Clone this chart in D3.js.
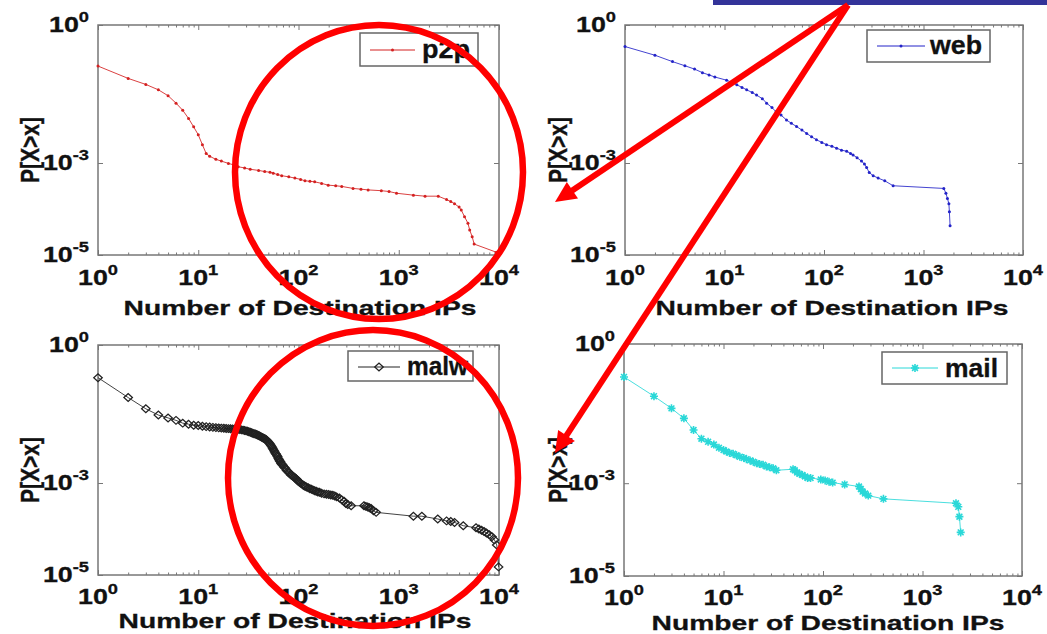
<!DOCTYPE html>
<html><head><meta charset="utf-8">
<script src="https://cdn.jsdelivr.net/npm/d3@7"></script>
<style>body{margin:0;background:#fff}svg{display:block}</style>
</head><body>
<script>
// ---------------- data ----------------
const seriesNames = ["p2p", "web", "malw", "mail"];
const xTickValues = [1, 10, 100, 1000, 10000];
const xTickExponents = ["0", "1", "2", "3", "4"];
const yTickValues = [1, 1e-3, 1e-5];
const yTickExponents = ["0", "-3", "-5"];
const xAxisTitle = "Number of Destination IPs";
const yAxisTitle = "P[X>x]";

const p2pX = [1,2,3,4,5,6,7,8,9,10,11,12,13,15,17,20,23,25,29,33,40,46,52,56,62,68,80,92,105,116,130,145,170,198,235,270,350,420,495,670,800,950,1400,1830,2480,3000,3300,3600,4000,4200,4530,4900,5100,5400,5650,9400];
const p2pY = [0.128,0.069,0.051,0.039,0.029,0.020,0.014,0.0093,0.0061,0.0041,0.0025,0.0016,0.0014,0.0012,0.0011,0.00098,0.0009,0.00083,0.00078,0.00073,0.00069,0.00065,0.00063,0.0006,0.00056,0.00053,0.0005,0.00047,0.00044,0.00041,0.0004,0.00039,0.00036,0.00033,0.00032,0.00031,0.00028,0.00027,0.00026,0.00025,0.00024,0.00022,0.0002,0.00019,0.00019,0.00016,0.000145,0.00013,0.00011,0.000095,0.000068,0.000049,0.000035,0.000025,0.0000173,0.0000115];

const webX = [1,2,3,4,5,6,7,8,10.5,12,13.3,15,16.7,19,21,24,26.5,30,33,37,42,47,53,60,67,75,84,95,106,120,134,150,169,185,196,215,238,255,268,285,312,350,408,495,1600,1680,1740,1800,1820,1850];
const webY = [0.34,0.22,0.16,0.13,0.11,0.092,0.082,0.074,0.063,0.056,0.050,0.044,0.039,0.034,0.030,0.025,0.020,0.016,0.013,0.011,0.0086,0.0073,0.0062,0.0052,0.0044,0.0037,0.0032,0.0028,0.0025,0.0023,0.0021,0.0019,0.0018,0.0016,0.0015,0.0013,0.0011,0.00095,0.0008,0.00062,0.00053,0.00047,0.00041,0.00032,0.00028,0.00022,0.00017,0.00013,0.000087,0.000043];

const malwX = [1,2,3,4,5,6,7,8,9,10,11,12,13,14,15,16,17,18,19,20,21,22,23,24,25,26,27,28,29,30,31,32,33,34,35,36,37,38,39,40,41,42,43,44,45,46,47,48,49,50,51,52,53,54,55,56,57,58,59,60,61,62,63,64,65,66,67,68,69,70,72,74,76,78,80,82,84,86,88,90,92,94,96,98,100,103,106,110,113,116,120,125,130,135,140,145,150,156,162,170,180,190,200,210,220,230,240,256,270,285,297,310,335,450,470,490,510,530,560,595,1400,1700,2450,3000,3300,3600,4400,5900,6300,6700,7100,7500,8000,8500,9000,9500,9900];
const malwY = [0.195,0.072,0.041,0.030,0.026,0.023,0.020,0.019,0.018,0.0177,0.0172,0.0168,0.0165,0.0162,0.016,0.0158,0.0156,0.0155,0.0153,0.0152,0.0151,0.015,0.0149,0.0148,0.0147,0.0145,0.0143,0.0141,0.0139,0.0136,0.0133,0.013,0.0127,0.0124,0.0121,0.0118,0.0116,0.0113,0.0111,0.0108,0.0105,0.0102,0.0099,0.0096,0.0094,0.0092,0.0089,0.0086,0.0082,0.0078,0.0074,0.007,0.0066,0.0062,0.0058,0.0054,0.005,0.0047,0.0044,0.0042,0.0039,0.0037,0.0034,0.0032,0.003,0.0029,0.0027,0.0026,0.0025,0.0024,0.0022,0.0021,0.0019,0.0018,0.0017,0.0016,0.0015,0.00145,0.0014,0.00135,0.0013,0.00125,0.0012,0.00114,0.00108,0.00102,0.00098,0.00092,0.00088,0.00085,0.00082,0.00079,0.00075,0.00073,0.0007,0.00068,0.00066,0.00064,0.00063,0.0006,0.00058,0.00057,0.00056,0.00055,0.00054,0.00052,0.0005,0.00047,0.00043,0.0004,0.00036,0.00034,0.00032,0.00032,0.00031,0.0003,0.00029,0.00028,0.00025,0.00023,0.00019,0.00019,0.000165,0.00015,0.000145,0.000139,0.000118,0.000106,0.0001,0.000094,0.000088,0.000082,0.000075,0.000068,0.000058,0.000045,0.000015];

const mailX = [1,2,3,4,5,6,7,8,9,10,10.7,11.5,12.5,13.5,14.6,16,17,18.5,19.9,21.5,23,25,27,29,31.6,34,50,52,55,58,62,66,70,75,95,105,115,125,165,230,240,250,265,285,405,2170,2290,2350,2420];
const mailY = [0.195,0.075,0.041,0.025,0.014,0.0091,0.0078,0.0068,0.0058,0.0052,0.0048,0.0045,0.0043,0.004,0.0037,0.0035,0.0033,0.0031,0.0029,0.0027,0.0026,0.0025,0.0023,0.0022,0.0021,0.0019,0.002,0.0019,0.0017,0.0016,0.0015,0.0014,0.0013,0.0013,0.0012,0.00115,0.00107,0.00103,0.00094,0.00085,0.00075,0.00066,0.0006,0.00054,0.00046,0.00037,0.00031,0.00019,0.000087];

const seriesX = [p2pX, webX, malwX, mailX];
const seriesY = [p2pY, webY, malwY, mailY];

// ---------------- layout / style ----------------
const W = 1047, H = 634;
const FONT = "'Liberation Sans', Arial, sans-serif";
const styles = [
  {color: "#d42020", marker: "dot"},
  {color: "#2323c8", marker: "dot"},
  {color: "#222222", marker: "diamond"},
  {color: "#2ad8d8", marker: "star"}
];
const layouts = [
  {l:98, r:499, t:25, b:255, tickBase:285, titleBase:315, titleCx:300, yTitleX:39, yTitleCy:150,
   leg:{x:360,y:33,w:118,h:33,lx1:370,lx2:415,ly:50,tx:422,tb:58,tw:48}},
  {l:625, r:1023, t:25, b:255, tickBase:285, titleBase:315, titleCx:832, yTitleX:567, yTitleCy:150,
   leg:{x:867,y:30,w:123,h:32,lx1:877,lx2:925,ly:46,tx:930,tb:54,tw:52}},
  {l:98, r:499, t:345, b:575, tickBase:604, titleBase:628, titleCx:295, yTitleX:39, yTitleCy:470,
   leg:{x:348,y:351,w:125,h:30,lx1:358,lx2:400,ly:367,tx:407,tb:375,tw:61}},
  {l:624, r:1022, t:344, b:576, tickBase:605, titleBase:630, titleCx:828, yTitleX:567, yTitleCy:470,
   leg:{x:882,y:352,w:125,h:32,lx1:892,lx2:938,ly:368,tx:945,tb:377,tw:53}}
];

const svg = d3.select("body").append("svg").attr("width", W).attr("height", H)
  .style("font-family", FONT);

function drawMarker(g, kind, cx, cy, color) {
  if (kind === "dot") {
    g.append("circle").attr("cx", cx).attr("cy", cy).attr("r", 1.5).attr("fill", color);
  } else if (kind === "diamond") {
    g.append("path").attr("transform", `translate(${cx},${cy}) scale(1.1,1) rotate(45)`)
      .attr("d", d3.symbol(d3.symbolSquare, 30)()).attr("fill", "none")
      .attr("stroke", color).attr("stroke-width", 1.2);
  } else {
    const s = 4, d = 2.9;
    g.append("path").attr("transform", `translate(${cx},${cy})`)
      .attr("d", `M${-s},0H${s}M0,${-s}V${s}M${-d},${-d}L${d},${d}M${-d},${d}L${d},${-d}`)
      .attr("stroke", color).attr("stroke-width", 1.6).attr("fill", "none");
  }
}

function powerLabel(g, x, y, exp, anchor, size, supSize, sx) {
  const grp = g.append("g").attr("transform", `translate(${x},${y}) scale(${sx},1)`);
  const t = grp.append("text").attr("text-anchor", anchor).attr("font-weight", "bold")
    .attr("font-size", size).attr("fill", "#111").attr("stroke", "#111").attr("stroke-width", 0.3);
  t.append("tspan").text("10");
  t.append("tspan").attr("dy", -10).attr("font-size", supSize).text(exp);
}

layouts.forEach((L, i) => {
  const g = svg.append("g");
  const x = d3.scaleLog().domain([1, 1e4]).range([L.l, L.r]);
  const y = d3.scaleLog().domain([1e-5, 1]).range([L.b, L.t]);

  // minor + major ticks (inward) on all sides
  const minor = x.ticks().filter(v => !xTickValues.includes(v));
  const axStyle = sel => { sel.select(".domain").remove(); sel.selectAll("line").attr("stroke", "#777"); };
  g.append("g").attr("transform", `translate(0,${L.b})`)
    .call(d3.axisBottom(x).tickValues(minor).tickSize(-2.5).tickFormat("")).call(axStyle);
  g.append("g").attr("transform", `translate(0,${L.t})`)
    .call(d3.axisTop(x).tickValues(minor).tickSize(-2.5).tickFormat("")).call(axStyle);
  g.append("g").attr("transform", `translate(0,${L.b})`)
    .call(d3.axisBottom(x).tickValues(xTickValues).tickSize(-5).tickFormat("")).call(axStyle);
  g.append("g").attr("transform", `translate(0,${L.t})`)
    .call(d3.axisTop(x).tickValues(xTickValues).tickSize(-5).tickFormat("")).call(axStyle);
  g.append("g").attr("transform", `translate(${L.l},0)`)
    .call(d3.axisLeft(y).tickValues(yTickValues).tickSize(-5).tickFormat("")).call(axStyle);
  g.append("g").attr("transform", `translate(${L.r},0)`)
    .call(d3.axisRight(y).tickValues(yTickValues).tickSize(-5).tickFormat("")).call(axStyle);

  g.append("rect").attr("x", L.l).attr("y", L.t).attr("width", L.r - L.l).attr("height", L.b - L.t)
    .attr("fill", "none").attr("stroke", "#777").attr("stroke-width", 1.5);

  // tick labels
  xTickValues.forEach((v, k) => powerLabel(g, x(v), L.tickBase, xTickExponents[k], "middle", 22, 15, 1.22));
  yTickValues.forEach((v, k) => powerLabel(g, L.l - 9, y(v) + 7, yTickExponents[k], "end", 22, 15, 1.22));

  // axis titles
  g.append("text").attr("x", L.titleCx).attr("y", L.titleBase).attr("text-anchor", "middle")
    .attr("font-weight", "bold").attr("font-size", 21).attr("fill", "#111")
    .attr("stroke", "#111").attr("stroke-width", 0.3)
    .attr("textLength", 353).attr("lengthAdjust", "spacingAndGlyphs").text(xAxisTitle);
  g.append("text").attr("transform", `translate(${L.yTitleX},${L.yTitleCy}) rotate(-90) scale(1,1.25)`)
    .attr("text-anchor", "middle").attr("font-weight", "bold").attr("font-size", 21).attr("fill", "#111")
    .attr("stroke", "#111").attr("stroke-width", 0.3)
    .attr("textLength", 66).attr("lengthAdjust", "spacingAndGlyphs").text(yAxisTitle);

  // series
  const st = styles[i];
  const pts = seriesX[i].map((v, k) => [v, seriesY[i][k]]);
  g.append("path").datum(pts)
    .attr("d", d3.line().x(d => x(d[0])).y(d => y(d[1])))
    .attr("fill", "none").attr("stroke", st.color).attr("stroke-width", 1).attr("stroke-opacity", 0.85);
  const mg = g.append("g");
  pts.forEach(d => drawMarker(mg, st.marker, x(d[0]), y(d[1]), st.color));

  // legend
  const lg = L.leg;
  g.append("rect").attr("x", lg.x).attr("y", lg.y).attr("width", lg.w).attr("height", lg.h)
    .attr("fill", "#fff").attr("stroke", "#666").attr("stroke-width", 1.5);
  g.append("line").attr("x1", lg.lx1).attr("x2", lg.lx2).attr("y1", lg.ly).attr("y2", lg.ly)
    .attr("stroke", st.color).attr("stroke-width", 1);
  drawMarker(g, st.marker, (lg.lx1 + lg.lx2) / 2, lg.ly, st.color);
  g.append("text").attr("x", lg.tx).attr("y", lg.tb).attr("font-weight", "bold").attr("font-size", 25)
    .attr("fill", "#111").attr("stroke", "#111").attr("stroke-width", 0.3)
    .attr("textLength", lg.tw).attr("lengthAdjust", "spacingAndGlyphs")
    .text(seriesNames[i]);
});

// ---------------- slide annotations ----------------
const ann = svg.append("g");
ann.append("rect").attr("x", 713).attr("y", 0).attr("width", 334).attr("height", 5).attr("fill", "#333399");
const RED = "#ff0000";
[[379, 172, 144, 147], [373, 478, 145, 148]].forEach(e => {
  ann.append("ellipse").attr("cx", e[0]).attr("cy", e[1]).attr("rx", e[2]).attr("ry", e[3])
    .attr("fill", "none").attr("stroke", RED).attr("stroke-width", 6.5);
});
const start = [848, 5];
[[555, 202], [555, 453]].forEach(tip => {
  const dx = tip[0] - start[0], dy = tip[1] - start[1];
  const len = Math.hypot(dx, dy), ux = dx / len, uy = dy / len;
  const hl = 21, hw = 10;
  const bx = tip[0] - ux * hl, by = tip[1] - uy * hl;
  ann.append("line").attr("x1", start[0]).attr("y1", start[1]).attr("x2", bx + ux * 2).attr("y2", by + uy * 2)
    .attr("stroke", RED).attr("stroke-width", 6);
  ann.append("path").attr("fill", RED)
    .attr("d", `M${tip[0]},${tip[1]}L${bx - uy * hw},${by + ux * hw}L${bx + uy * hw},${by - ux * hw}Z`);
});
</script>
</body></html>
